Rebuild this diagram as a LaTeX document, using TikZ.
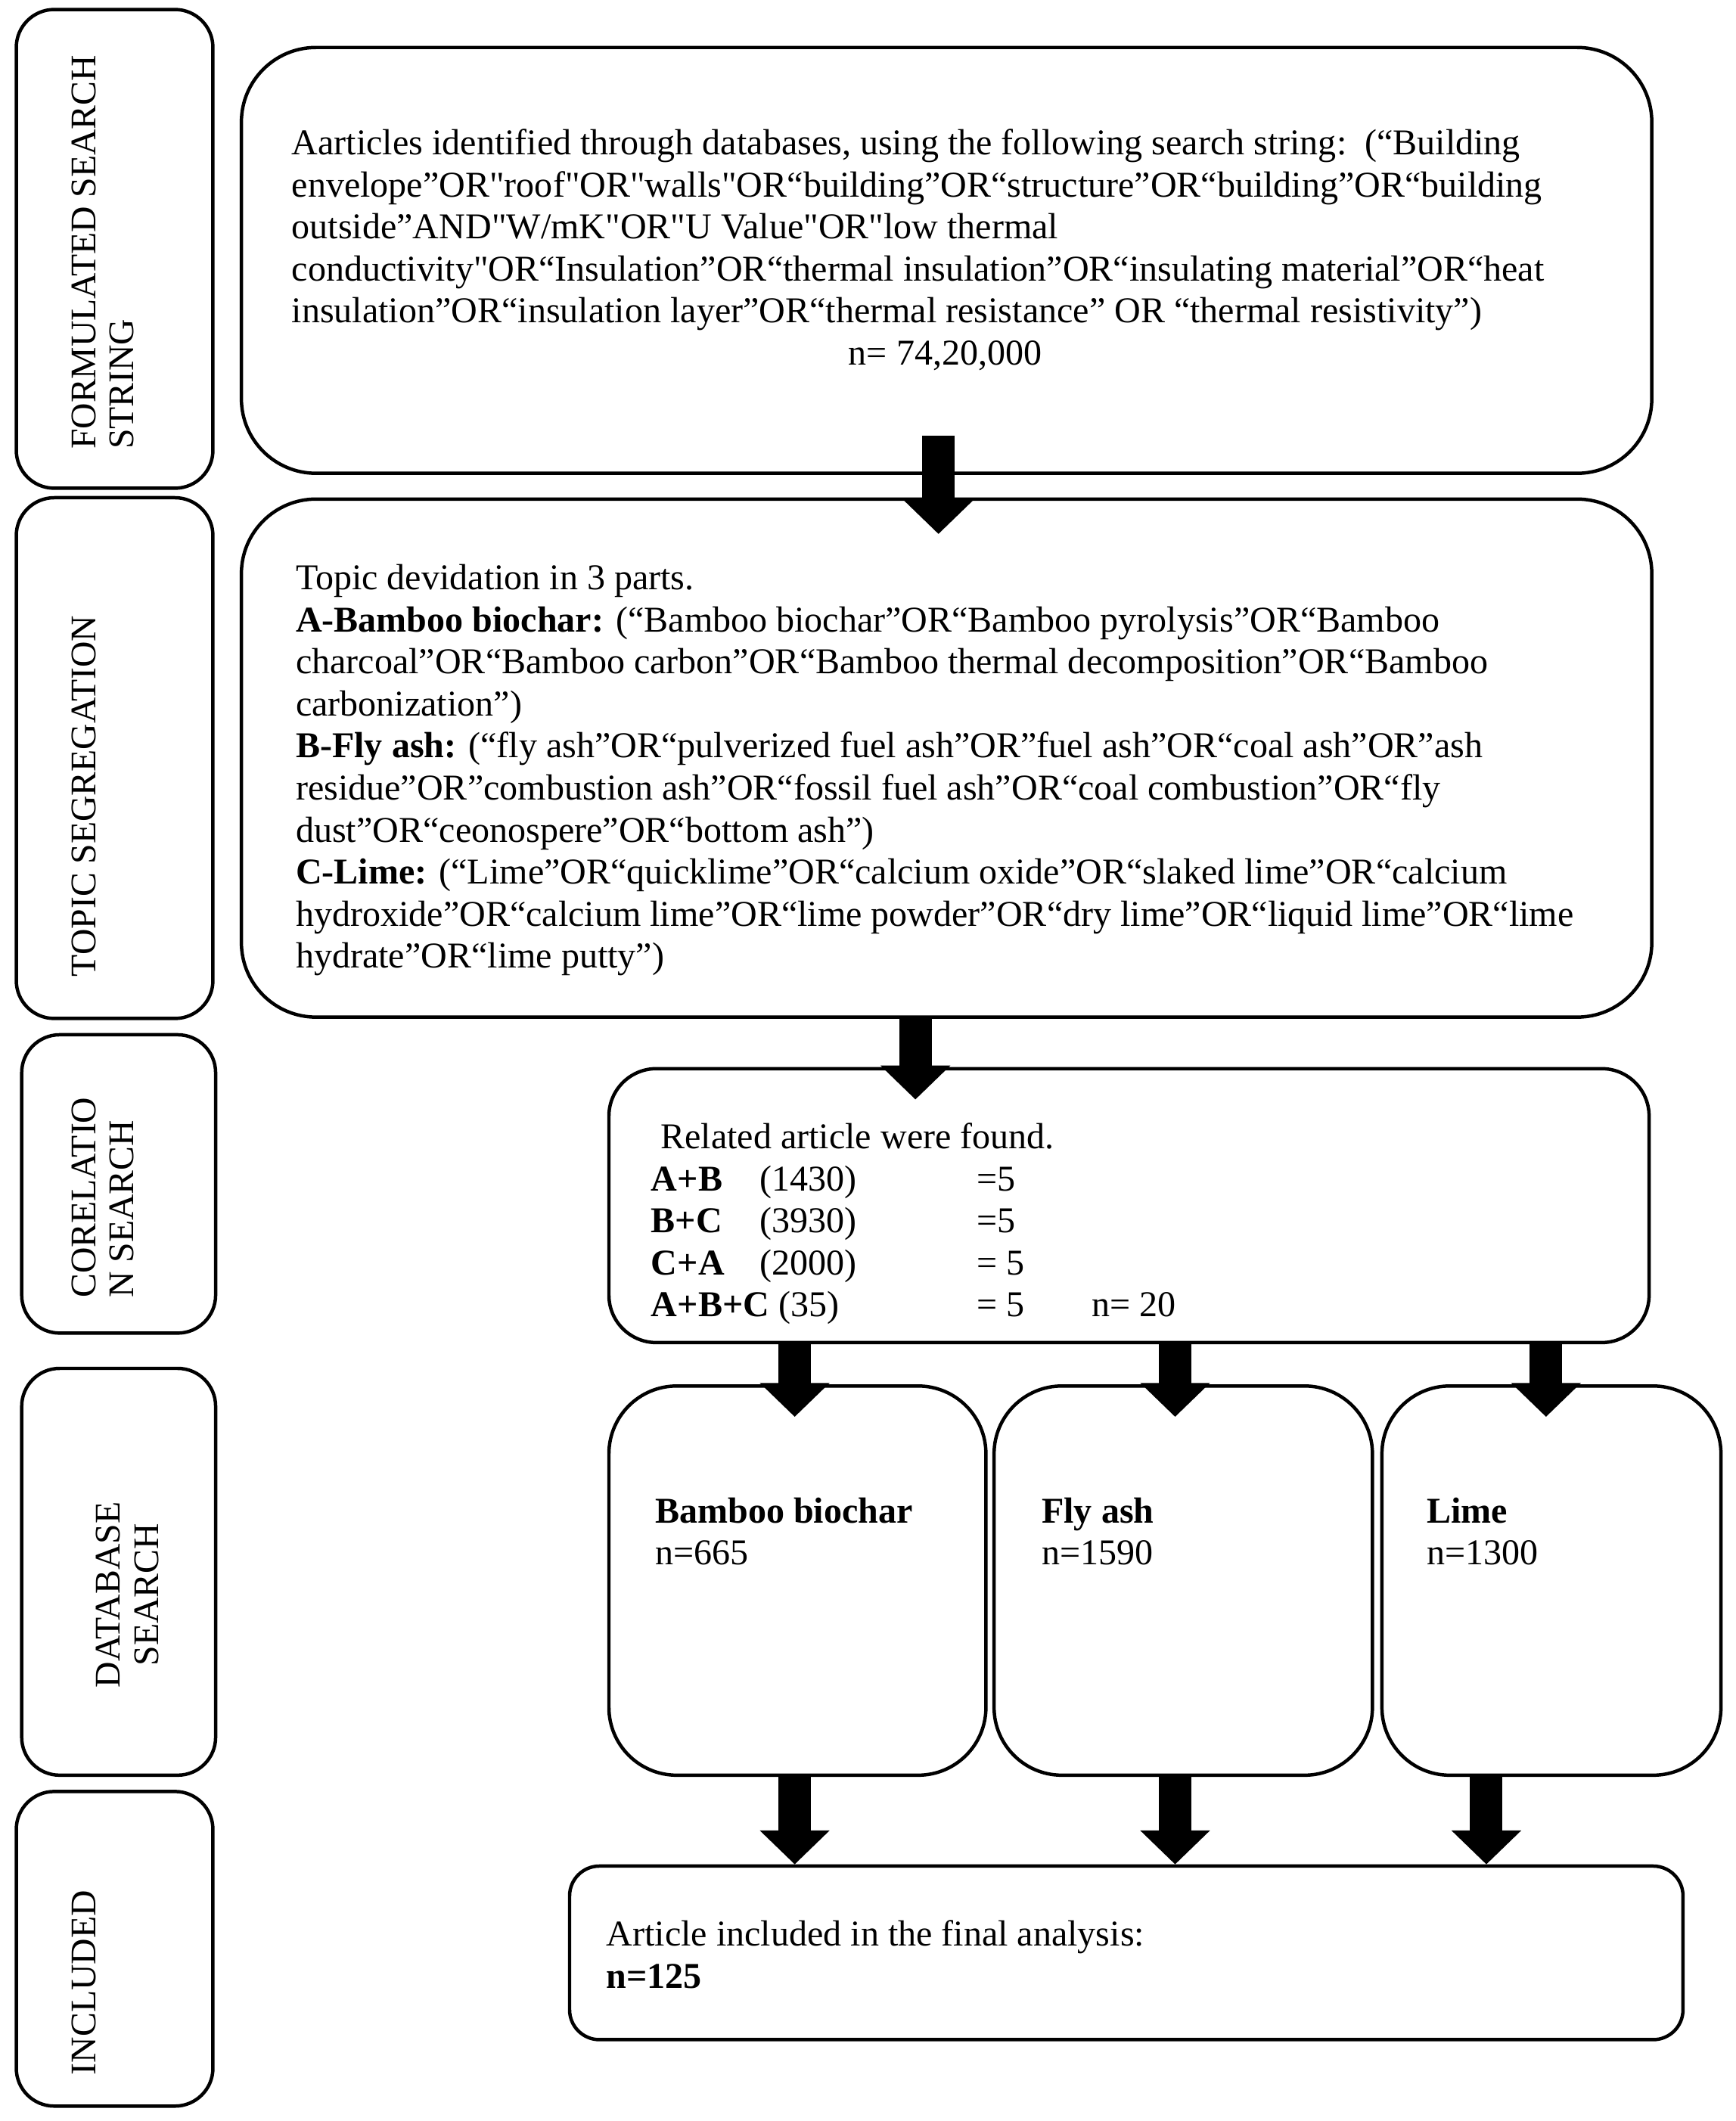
\documentclass[tikz,border=0pt]{standalone}
\usepackage{fontspec}
\setmainfont{Liberation Serif}[Ligatures=TeXOff]
\usetikzlibrary{arrows.meta}

\begin{document}
\begin{tikzpicture}[x=1pt, y=1pt,
    sidebox/.style={draw, line width=2.5pt, rounded corners=28pt, inner sep=0pt},
    stagebox/.style={draw, line width=2.5pt, inner sep=0pt},
    sidetext/.style={rotate=90, inner sep=0pt, font=\fontsize{26.6}{28}\selectfont},
    txt/.style={inner sep=0pt, align=left, font=\fontsize{26.8}{31}\selectfont},
    fatarrow/.style={line width=24pt, -{Triangle[width=50pt, length=25pt]}}]

    \useasboundingbox (0,0) rectangle (1280,-1564);

    % Etiquetas
    \node[sidebox, minimum width=145pt, minimum height=353pt] (lab1) at (84.5,-183.5) {};
    \node[sidebox, minimum width=145pt, minimum height=384pt] (lab2) at (84.5,-559) {};
    \node[sidebox, minimum width=143pt, minimum height=220pt] (lab3) at (87.5,-873) {};
    \node[sidebox, minimum width=143pt, minimum height=300pt] (lab4) at (87.5,-1159) {};
    \node[sidebox, minimum width=145pt, minimum height=232pt] (lab5) at (84.5,-1437) {};

    \node[sidetext, align=left] (l1) at (76,-186) {FORMULATED SEARCH\\STRING};
    \node[sidetext] (l2) at (62,-587) {TOPIC SEGREGATION};
    \node[sidetext, align=left] (l3) at (76,-883) {CORELATIO\\N SEARCH};
    \node[sidetext, align=center] (l4) at (94,-1176) {DATABASE\\SEARCH};
    \node[sidetext] (l5) at (62,-1462) {INCLUDED};

    % Cajas
    \node[stagebox, rounded corners=55pt, minimum width=1040pt, minimum height=314pt] (search) at (698,-192) {};
    \node[stagebox, rounded corners=55pt, minimum width=1040pt, minimum height=382pt] (topics) at (698,-559) {};
    \node[stagebox, rounded corners=35pt, minimum width=767pt, minimum height=202pt] (corr) at (832.5,-889) {};
    \node[stagebox, rounded corners=50pt, minimum width=278pt, minimum height=287pt] (bamboo) at (588,-1165.5) {};
    \node[stagebox, rounded corners=50pt, minimum width=279pt, minimum height=287pt] (flyash) at (872.5,-1165.5) {};
    \node[stagebox, rounded corners=50pt, minimum width=250pt, minimum height=287pt] (lime) at (1144,-1165.5) {};
    \node[stagebox, rounded corners=22pt, minimum width=821pt, minimum height=128pt] (final) at (830.5,-1440) {};

    % Textos
    \node[txt, anchor=north west] (t1) at (215,-95) {Aarticles identified through databases, using the following search string:\ \ (“Building\\
        envelope”OR"roof"OR"walls"OR“building”OR“structure”OR“building”OR“building\\
        outside”AND"W/mK"OR"U Value"OR"low thermal\\
        conductivity"OR“Insulation”OR“thermal insulation”OR“insulating material”OR“heat\\
        insulation”OR“insulation layer”OR“thermal resistance” OR “thermal resistivity”)};
    \node[txt, anchor=base] (n1) at (697,-269) {n= 74,20,000};

    \node[txt, anchor=north west] (t2) at (218,-416) {Topic devidation in 3 parts.\\
        \textbf{A-Bamboo biochar:} (“Bamboo biochar”OR“Bamboo pyrolysis”OR“Bamboo\\
        charcoal”OR“Bamboo carbon”OR“Bamboo thermal decomposition”OR“Bamboo\\
        carbonization”)\\
        \textbf{B-Fly ash:} (“fly ash”OR“pulverized fuel ash”OR”fuel ash”OR“coal ash”OR”ash\\
        residue”OR”combustion ash”OR“fossil fuel ash”OR“coal combustion”OR“fly\\
        dust”OR“ceonospere”OR“bottom ash”)\\
        \textbf{C-Lime:} (“Lime”OR“quicklime”OR“calcium oxide”OR“slaked lime”OR“calcium\\
        hydroxide”OR“calcium lime”OR“lime powder”OR“dry lime”OR“liquid lime”OR“lime\\
        hydrate”OR“lime putty”)};

    \node[txt, anchor=north west] (t3) at (480,-828) {\hspace*{7pt}Related article were found.\\
        \makebox[240pt][l]{\makebox[80pt][l]{\textbf{A+B}}(1430)}=5\\
        \makebox[240pt][l]{\makebox[80pt][l]{\textbf{B+C}}(3930)}=5\\
        \makebox[240pt][l]{\makebox[80pt][l]{\textbf{C+A}}(2000)}= 5\\
        \makebox[240pt][l]{\textbf{A+B+C} (35)}\makebox[85pt][l]{= 5}n= 20};

    \node[txt, anchor=north west] (t4) at (483,-1104) {\textbf{Bamboo biochar}\\n=665};
    \node[txt, anchor=north west] (t5) at (768,-1104) {\textbf{Fly ash}\\n=1590};
    \node[txt, anchor=north west] (t6) at (1052,-1104) {\textbf{Lime}\\n=1300};

    \node[txt, anchor=north west] (t7) at (447,-1416) {Article included in the final analysis:\\\textbf{n=125}};

    % Flechas
    \draw[fatarrow] ([xshift=-6pt, yshift=29pt]search.south) -- ([xshift=-6pt, yshift=-27pt]topics.north);
    \draw[fatarrow] ([xshift=-23pt]topics.south) -- ([xshift=-157.5pt, yshift=-24pt]corr.north);

    \draw[fatarrow] ([xshift=-2pt]bamboo.north |- corr.south) -- ([xshift=-2pt, yshift=-24pt]bamboo.north);
    \draw[fatarrow] ([xshift=-6pt]flyash.north |- corr.south) -- ([xshift=-6pt, yshift=-24pt]flyash.north);
    \draw[fatarrow] ([xshift=-4pt]lime.north |- corr.south) -- ([xshift=-4pt, yshift=-24pt]lime.north);

    \draw[fatarrow] ([xshift=-2pt]bamboo.south) -- ([xshift=-2pt]bamboo.south |- final.north);
    \draw[fatarrow] ([xshift=-6pt]flyash.south) -- ([xshift=-6pt]flyash.south |- final.north);
    \draw[fatarrow] ([xshift=-48pt]lime.south) -- ([xshift=-48pt]lime.south |- final.north);

\end{tikzpicture}
\end{document}
